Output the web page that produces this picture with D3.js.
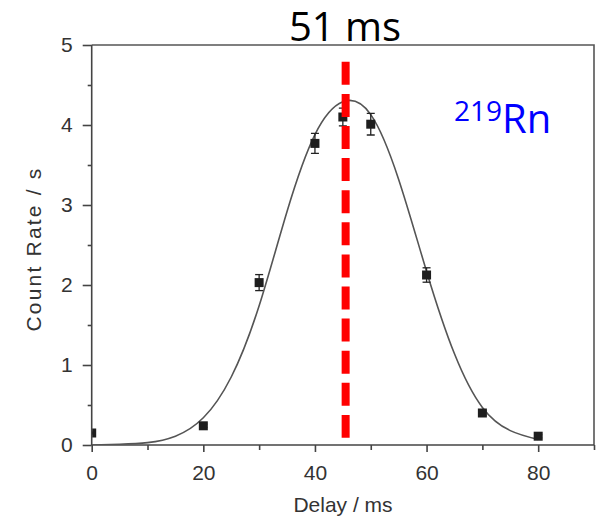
<!DOCTYPE html>
<html>
<head>
<meta charset="utf-8">
<script src="https://cdn.jsdelivr.net/npm/d3@7"></script>
<style>
  body { margin: 0; background: #fff; }
  svg { display: block; }
  .axis path, .axis line { stroke: #444; stroke-width: 1.6; }
  .axis text { fill: #333; font-family: "Liberation Sans", Arial, sans-serif; font-size: 21px; }
</style>
</head>
<body>
<svg id="chart" width="596" height="517"></svg>
<script>
// measured points (delay in ms, count rate per s, error)
const delays = [0, 20, 30, 40, 45, 50, 60, 70, 80];
const rates  = [0.15, 0.24, 2.03, 3.77, 4.10, 4.01, 2.125, 0.40, 0.11];
const errors = [0.01, 0.02, 0.10, 0.125, 0.11, 0.135, 0.09, 0.03, 0.02];

// fitted curve
const fitX = [0, 5, 10, 15, 20, 25, 30, 35, 40, 45, 50, 55, 60, 65, 70, 75, 80];
const fitY = [0.0, 0.01, 0.03, 0.11, 0.34, 0.85, 1.74, 2.92, 3.88, 4.29, 4.13, 3.32, 2.17, 1.14, 0.47, 0.18, 0.07];

const xTicks = [0, 20, 40, 60, 80];
const yTicks = [0, 1, 2, 3, 4, 5];
const peakDelay = 45.5;
const title = "51 ms";

const svg = d3.select("#chart");
const mLeft = 91.7, mRight = 594, mTop = 45, mBottom = 445;

const x = d3.scaleLinear().domain([0, 90]).range([mLeft, mRight]);
const y = d3.scaleLinear().domain([0, 5]).range([mBottom, mTop]);

// frame (top and right)
svg.append("path")
    .attr("d", `M${mLeft},${mTop}H${mRight}V${mBottom}`)
    .style("fill", "none").style("stroke", "#555").style("stroke-width", 1.6);

// ticks
const gx = svg.append("g").attr("class", "axis").attr("transform", `translate(0,${mBottom})`);
gx.call(d3.axisBottom(x).tickValues(d3.range(10, 91, 20)).tickSize(5).tickFormat(""));
gx.select(".domain").remove();
const gx2 = svg.append("g").attr("class", "axis").attr("transform", `translate(0,${mBottom})`);
gx2.call(d3.axisBottom(x).tickValues(xTicks).tickSize(7).tickPadding(13).tickFormat(d3.format("d")));
gx2.select(".domain").remove();
gx2.append("line").attr("x1", mLeft).attr("x2", mRight);

const gy = svg.append("g").attr("class", "axis").attr("transform", `translate(${mLeft},0)`);
gy.call(d3.axisLeft(y).tickValues(d3.range(0.5, 5, 1)).tickSize(4).tickFormat(""));
gy.select(".domain").remove();
const gy2 = svg.append("g").attr("class", "axis").attr("transform", `translate(${mLeft},0)`);
gy2.call(d3.axisLeft(y).tickValues(yTicks).tickSize(9).tickPadding(10).tickFormat(d3.format("d")));
gy2.select(".domain").remove();
gy2.append("line").attr("y1", mTop).attr("y2", mBottom);

// axis titles
svg.append("text")
    .attr("x", 343).attr("y", 512)
    .attr("text-anchor", "middle")
    .style("font-family", "Liberation Sans, Arial, sans-serif").style("font-size", "21px").style("fill", "#333")
    .text("Delay / ms");
svg.append("text")
    .attr("transform", "translate(41,249) rotate(-90)")
    .attr("text-anchor", "middle")
    .style("font-family", "Liberation Sans, Arial, sans-serif").style("font-size", "21px").style("fill", "#333")
    .style("letter-spacing", "2.2px")
    .text("Count Rate / s");

// clip for the data
svg.append("clipPath").attr("id", "plot")
    .append("rect").attr("x", mLeft + 0.5).attr("y", mTop).attr("width", mRight - mLeft).attr("height", mBottom - mTop);

const plot = svg.append("g").attr("clip-path", "url(#plot)");

// fit curve
const line = d3.line()
    .x((d, i) => x(fitX[i]))
    .y(d => y(d))
    .curve(d3.curveNatural);
plot.append("path")
    .datum(fitY)
    .attr("d", line)
    .style("fill", "none").style("stroke", "#555").style("stroke-width", 1.6);

// error bars
const pts = delays.map((d, i) => ({x: d, y: rates[i], e: errors[i]}));
const eb = plot.selectAll("g.err").data(pts).enter().append("g").attr("class", "err")
    .style("stroke", "#222").style("stroke-width", 1.3);
eb.append("line")
    .attr("x1", d => x(d.x)).attr("x2", d => x(d.x))
    .attr("y1", d => y(d.y - d.e)).attr("y2", d => y(d.y + d.e));
eb.append("line")
    .attr("x1", d => x(d.x) - 4).attr("x2", d => x(d.x) + 4)
    .attr("y1", d => y(d.y + d.e)).attr("y2", d => y(d.y + d.e));
eb.append("line")
    .attr("x1", d => x(d.x) - 4).attr("x2", d => x(d.x) + 4)
    .attr("y1", d => y(d.y - d.e)).attr("y2", d => y(d.y - d.e));

// markers
plot.selectAll("rect.pt").data(pts).enter().append("rect").attr("class", "pt")
    .attr("x", d => x(d.x) - 4.5).attr("y", d => y(d.y) - 4.5)
    .attr("width", 9).attr("height", 9)
    .style("fill", "#1e1e1e");

// red dashed peak line
svg.append("line")
    .attr("x1", x(peakDelay)).attr("x2", x(peakDelay))
    .attr("y1", y(4.79)).attr("y2", y(0.09))
    .style("stroke", "#ff0000").style("stroke-width", 8)
    .style("stroke-dasharray", "23 9.1");

// title
svg.append("text")
    .attr("x", 345).attr("y", 41)
    .attr("text-anchor", "middle")
    .style("font-family", "Open Sans, sans-serif").style("font-size", "40px").style("fill", "#000")
    .text(title);

// isotope label
const iso = svg.append("text")
    .attr("x", 454).attr("y", 133)
    .style("font-family", "Open Sans, sans-serif").style("fill", "#0000ff");
iso.append("tspan").attr("dy", -12).style("font-size", "28px").text("219");
iso.append("tspan").attr("dy", 12).style("font-size", "40px").text("Rn");
</script>
</body>
</html>
